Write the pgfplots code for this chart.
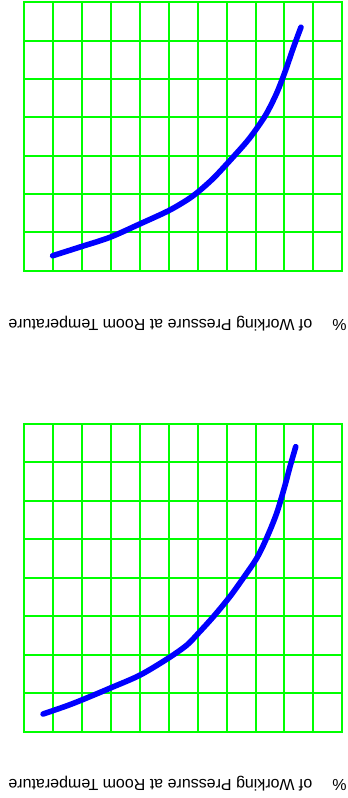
\documentclass[border=0pt]{standalone}
\usepackage{pgfplots}
\pgfplotsset{compat=1.18}
\usepackage{fontspec}
\setmainfont{Liberation Sans}
\definecolor{gridgreen}{RGB}{0,255,0}
\definecolor{curveblue}{RGB}{0,0,255}
\begin{document}
\begin{tikzpicture}
\path[use as bounding box] (0,0) rectangle (348bp,798bp);
\pgfplotsset{myaxis/.style={
  scale only axis, width=318bp,
  x dir=reverse, y dir=reverse,
  xmin=0, xmax=11, ymin=0,
  xtick={0,...,11}, xticklabels={}, yticklabels={},
  major tick length=0pt, tick style={draw=none},
  grid=major, grid style={gridgreen, line width=2bp},
  axis line style={gridgreen, line width=2bp},
  anchor=center, clip=false}}
% upper chart
\begin{axis}[myaxis, height=268.4bp, ymax=7, ytick={0,...,7}, at={(183.3bp,661.5bp)}]
\addplot[curveblue, line width=5.6bp, smooth, line cap=round] coordinates {
(10.02,6.61) (9.02,6.37) (8.04,6.13) (7.00,5.78) (6.02,5.44) (5.38,5.16)
(4.98,4.94) (4.46,4.59) (3.89,4.13) (3.31,3.64) (2.96,3.29) (2.62,2.90)
(2.27,2.37) (1.98,1.81) (1.70,1.20) (1.43,0.65)};
\end{axis}
% lower chart
\begin{axis}[myaxis, height=307.7bp, ymax=8, ytick={0,...,8}, at={(183.3bp,220.15bp)}]
\addplot[curveblue, line width=5.6bp, smooth, line cap=round] coordinates {
(10.35,7.54) (9.54,7.33) (8.96,7.16) (8.04,6.87) (7.00,6.53) (6.02,6.09)
(5.38,5.75) (4.98,5.44) (4.46,5.01) (3.89,4.49) (3.43,4.01) (2.96,3.49)
(2.62,2.97) (2.27,2.32) (1.98,1.59) (1.81,1.11) (1.61,0.59)};
\end{axis}
\node[rotate=180, font=\fontsize{16bp}{19bp}\selectfont, inner sep=0pt] at (177.5bp,474bp)
  {\%\hspace{20bp}of Working Pressure at Room Temperature};
\node[rotate=180, font=\fontsize{16bp}{19bp}\selectfont, inner sep=0pt] at (177.5bp,14bp)
  {\%\hspace{20bp}of Working Pressure at Room Temperature};
\end{tikzpicture}
\end{document}
